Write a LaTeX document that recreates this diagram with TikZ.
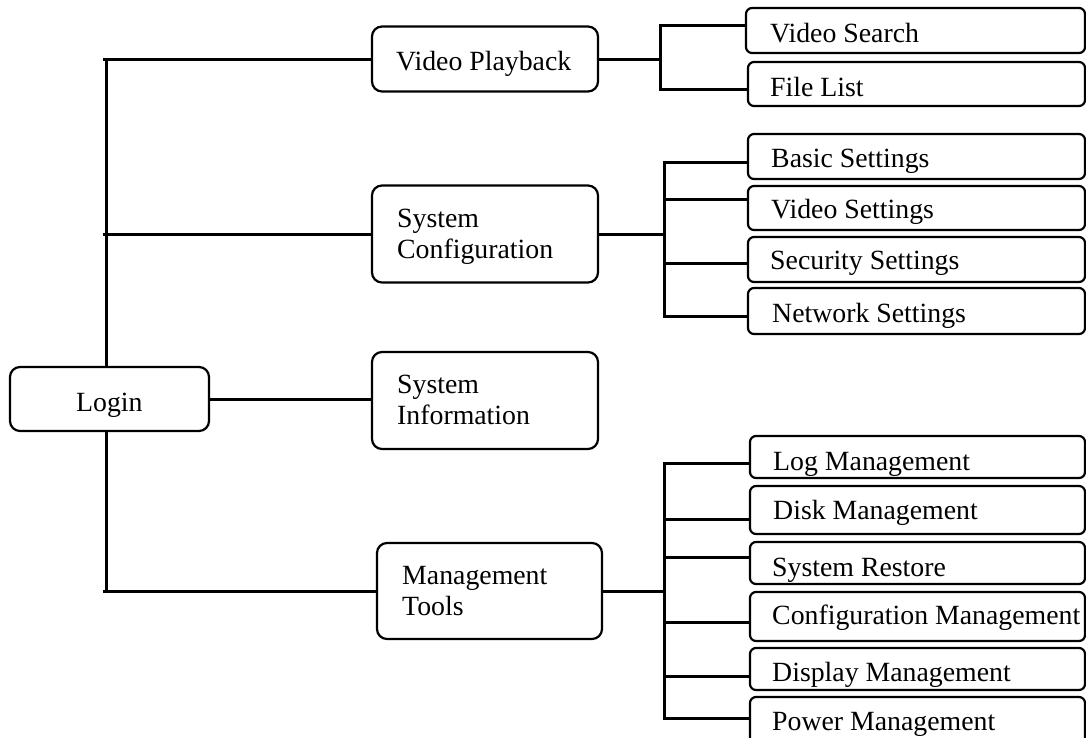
\documentclass[tikz,border=0pt]{standalone}
\usepackage{fontspec}
\setmainfont{Liberation Serif}
\begin{document}
\begin{tikzpicture}[x=1pt,y=-1pt,
  mainbox/.style={draw, line width=2.2pt, rounded corners=10pt, inner sep=0pt},
  subbox/.style={draw, line width=2.2pt, rounded corners=6pt, inner sep=0pt, minimum width=337pt},
  conn/.style={line width=3pt},
  lbl/.style={inner sep=0pt, anchor=base west, align=left, font=\fontsize{27.8}{31}\selectfont}]
\useasboundingbox (0,0) rectangle (1086,737);
\fill[white] (0,0) rectangle (1086,737);
\clip (0,0) rectangle (1086,737);

% main boxes
\node[mainbox, minimum width=199pt, minimum height=64pt] (login) at (109.5,399) {};
\node[mainbox, minimum width=226pt, minimum height=65pt] (vp) at (485,59) {};
\node[mainbox, minimum width=226pt, minimum height=97pt] (sc) at (485,234) {};
\node[mainbox, minimum width=226pt, minimum height=97pt] (si) at (485,400.5) {};
\node[mainbox, minimum width=225pt, minimum height=96pt] (mt) at (489.5,591) {};

\node[lbl] (loginT) at (76,411) {Login};
\node[lbl] (vpT) at (396,70) {Video Playback};
\node[lbl] (scT) at (397,258) {System\\Configuration};
\node[lbl] (siT) at (397,424) {System\\Information};
\node[lbl] (mtT) at (402,615) {Management\\Tools};

% sub boxes
\node[subbox, minimum width=339pt, minimum height=45pt] (vs) at (915.5,30.5) {};
\node[subbox, minimum height=44pt] (fl) at (916.5,84) {};
\node[subbox, minimum height=45pt] (bs) at (916.5,156.5) {};
\node[subbox, minimum height=44pt] (vset) at (916.5,208) {};
\node[subbox, minimum height=45pt] (sec) at (916.5,259.5) {};
\node[subbox, minimum height=46pt] (net) at (916.5,311) {};
\node[subbox, minimum width=335pt, minimum height=42pt] (log) at (917.5,457) {};
\node[subbox, minimum width=335pt, minimum height=48pt] (disk) at (917.5,510) {};
\node[subbox, minimum width=335pt, minimum height=42pt] (sr) at (917.5,563) {};
\node[subbox, minimum width=335pt, minimum height=49pt] (cm) at (917.5,616.5) {};
\node[subbox, minimum width=335pt, minimum height=42pt] (dm) at (917.5,669) {};
\node[subbox, minimum width=335pt, minimum height=48pt] (pm) at (917.5,721) {};

\node[lbl] (vsT) at (770,42) {Video Search};
\node[lbl] (flT) at (770,96) {File List};
\node[lbl] (bsT) at (771,167) {Basic Settings};
\node[lbl] (vsetT) at (771,218) {Video Settings};
\node[lbl] (secT) at (770,269) {Security Settings};
\node[lbl] (netT) at (772,322) {Network Settings};
\node[lbl] (logT) at (773,470) {Log Management};
\node[lbl] (diskT) at (773,519) {Disk Management};
\node[lbl] (srT) at (772,576) {System Restore};
\node[lbl] (cmT) at (772,624) {Configuration Management};
\node[lbl] (dmT) at (772,681) {Display Management};
\node[lbl] (pmT) at (772,730) {Power Management};

% trunk from Login
\coordinate (tk) at (106,0);
\coordinate (tk0) at (103,0);
\draw[conn] (tk |- vp.west) -- (tk |- login.north);
\draw[conn] (login.south -| tk) -- (tk |- mt.west);
\draw[conn] (tk0 |- vp.west) -- (vp.west);
\draw[conn] (tk0 |- sc.west) -- (sc.west);
\draw[conn] (tk0 |- mt.west) -- (mt.west);
\draw[conn] (login.east) -- (login.east -| si.west);

% Video Playback branch
\coordinate (j1) at (660,0);
\draw[conn] (vp.east) -- (vp.east -| j1);
\draw[conn] (vs.west |- 0,25) -- (660,25) -- (660,89) -- (fl.west |- 0,89);

% System Configuration branch
\coordinate (j2) at (664,0);
\draw[conn] (sc.east) -- (sc.east -| j2);
\draw[conn] (bs.west |- 0,162) -- (664,162) -- (664,316) -- (net.west |- 0,316);
\draw[conn] (664,199) -- (vset.west |- 0,199);
\draw[conn] (664,263) -- (sec.west |- 0,263);

% Management Tools branch
\draw[conn] (mt.east) -- (mt.east -| j2);
\draw[conn] (log.west |- 0,463) -- (664,463) -- (664,718) -- (pm.west |- 0,718);
\draw[conn] (664,519) -- (disk.west |- 0,519);
\draw[conn] (664,557) -- (sr.west |- 0,557);
\draw[conn] (664,622) -- (cm.west |- 0,622);
\draw[conn] (664,676) -- (dm.west |- 0,676);
\end{tikzpicture}
\end{document}
